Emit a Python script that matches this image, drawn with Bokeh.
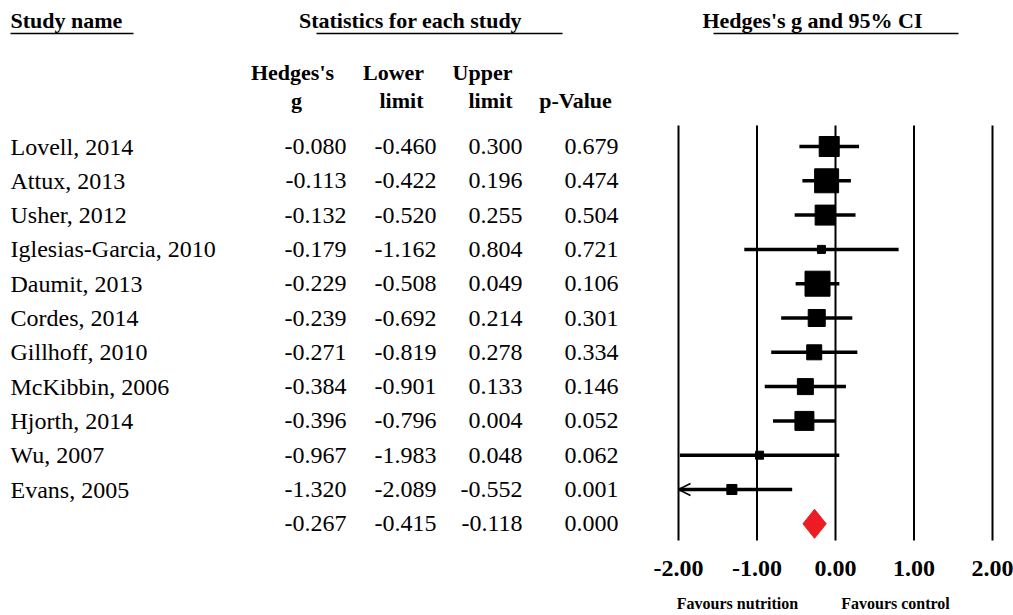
from bokeh.plotting import figure
from bokeh.models import Range1d, Arrow, OpenHead, ColumnDataSource
from bokeh.core.properties import value
from bokeh.embed import file_html
from bokeh.resources import INLINE

# ---------------- data ----------------
studies = ["Lovell, 2014", "Attux, 2013", "Usher, 2012", "Iglesias-Garcia, 2010",
           "Daumit, 2013", "Cordes, 2014", "Gillhoff, 2010", "McKibbin, 2006",
           "Hjorth, 2014", "Wu, 2007", "Evans, 2005"]
hedges_g = [-0.080, -0.113, -0.132, -0.179, -0.229, -0.239, -0.271, -0.384, -0.396, -0.967, -1.320]
lower = [-0.460, -0.422, -0.520, -1.162, -0.508, -0.692, -0.819, -0.901, -0.796, -1.983, -2.089]
upper = [0.300, 0.196, 0.255, 0.804, 0.049, 0.214, 0.278, 0.133, 0.004, 0.048, -0.552]
p_value = [0.679, 0.474, 0.504, 0.721, 0.106, 0.301, 0.334, 0.146, 0.052, 0.062, 0.001]
weights = [11.9, 17.1, 11.9, 1.9, 18.6, 8.6, 6.7, 7.6, 10.7, 1.9, 3.0]  # relative weight (%)
summary_g, summary_lo, summary_hi, summary_p = -0.267, -0.415, -0.118, 0.000
ticks = [-2.0, -1.0, 0.0, 1.0, 2.0]

# ---------------- layout helpers ----------------
W, H = 1013, 615
PX_M2, PX_P2 = 678.0, 992.0              # screen x of -2 and +2
scale = (PX_P2 - PX_M2) / 4.0
x_start = -2.0 - PX_M2 / scale
x_end = 2.0 + (W - PX_P2) / scale
ROW0, PITCH = 146.0, 34.3                # screen y of first row, row pitch


def r(py):
    """screen y (px) -> row coordinate"""
    return (py - ROW0) / PITCH


p = figure(width=W, height=H, output_backend="svg", toolbar_location=None,
           x_range=Range1d(x_start, x_end), y_range=Range1d(r(H), r(0)),
           min_border=0, x_axis_location=None, y_axis_location=None)
p.extra_x_ranges = {"px": Range1d(0, W)}
p.outline_line_color = None
p.xgrid.visible = False
p.ygrid.visible = False
p.background_fill_color = "white"
p.border_fill_color = "white"

SERIF = value("Liberation Serif")
n = len(studies)
rows = list(range(n))


def txt(x, y, t, size, align="left", bold=False, rng="px", color="black"):
    kw = dict(x=x, y=y, text=t, text_font=SERIF, text_font_size=f"{size}px",
              text_align=align, text_baseline="middle", text_color=color,
              text_font_style="bold" if bold else "normal")
    if rng:
        kw["x_range_name"] = rng
    p.text(**kw)


# ---- headers ----
txt([10], [r(20)], ["Study name"], 22, bold=True)
txt([410], [r(20)], ["Statistics for each study"], 22, align="center", bold=True)
txt([812], [r(20)], ["Hedges's g and 95% CI"], 22, align="center", bold=True)
p.segment(x0=[10, 316, 713], x1=[133, 562, 958], y0=[r(33)] * 3, y1=[r(33)] * 3,
          x_range_name="px", line_color="black", line_width=1.5)

txt([292, 393, 482], [r(72)] * 3, ["Hedges's", "Lower", "Upper"], 22, align="center", bold=True)
txt([296, 401, 490, 575], [r(100)] * 4, ["g", "limit", "limit", "p-Value"], 22, align="center", bold=True)

# ---- table ----
txt([10] * n, rows, studies, 24)
cols = [(346, hedges_g + [summary_g]), (436, lower + [summary_lo]),
        (522, upper + [summary_hi]), (618, p_value + [summary_p])]
for xr, vals in cols:
    txt([xr] * (n + 1), rows + [n], [f"{v:.3f}" for v in vals], 24, align="right")

# ---- forest plot ----
top, bottom = r(125), r(540)
p.segment(x0=ticks, x1=ticks, y0=[top] * len(ticks), y1=[bottom] * len(ticks),
          line_color="black", line_width=2)

lo_c = [max(v, ticks[0]) for v in lower]
hi_c = [min(v, ticks[-1]) for v in upper]
p.segment(x0=lo_c, x1=hi_c, y0=rows, y1=rows, line_color="black", line_width=3.5)
for i in range(n):
    if lower[i] < ticks[0]:
        p.add_layout(Arrow(x_start=hi_c[i], y_start=rows[i], x_end=ticks[0], y_end=rows[i],
                           line_width=0, line_alpha=0,
                           end=OpenHead(size=12, line_width=1.5, line_color="black")))

sizes = [5.8 * w ** 0.5 for w in weights]
p.scatter(x=hedges_g, y=rows, size=sizes, marker="square",
          fill_color="black", line_color="black")

dh = 14.5 / PITCH
p.patch(x=[summary_lo, summary_g, summary_hi, summary_g],
        y=[n, n - dh, n, n + dh], fill_color="#ED1C24", line_color="#ED1C24")

# ---- x tick labels & direction labels ----
p.text(x=ticks, y=[r(568)] * len(ticks), text=[f"{t:.2f}" for t in ticks],
       text_font=SERIF, text_font_size="24px", text_font_style="bold",
       text_align="center", text_baseline="middle")
txt([737, 895], [r(603)] * 2, ["Favours nutrition", "Favours control"], 16,
    align="center", bold=True)

open("out.html", "w").write(file_html(p, INLINE))
